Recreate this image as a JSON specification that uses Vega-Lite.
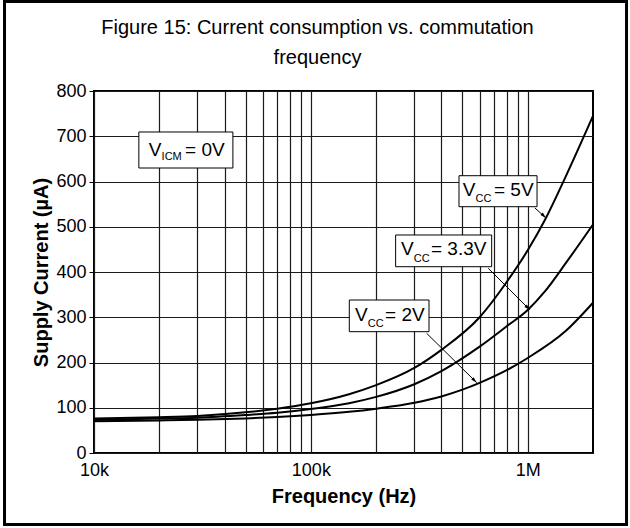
{
  "$schema": "https://vega.github.io/schema/vega-lite/v6.json",
  "autosize": "none",
  "width": 499,
  "height": 362,
  "padding": {"left": 94, "top": 91, "right": 37, "bottom": 75},
  "background": "white",
  "config": {
    "font": "Liberation Sans",
    "view": {"stroke": "black", "strokeWidth": 2}
  },
  "title": {
    "text": ["Figure 15: Current consumption vs. commutation", "frequency"],
    "font": "Liberation Sans",
    "fontSize": 20,
    "fontWeight": "normal",
    "color": "black",
    "anchor": "middle",
    "baseline": "bottom",
    "dx": -26,
    "lineHeight": 30,
    "offset": -88
  },
  "datasets": {
    "curves": [
      {"f": 10000, "I": 76, "vcc": "5V"},
      {"f": 20000, "I": 79, "vcc": "5V"},
      {"f": 30000, "I": 82, "vcc": "5V"},
      {"f": 50000, "I": 90, "vcc": "5V"},
      {"f": 70000, "I": 98, "vcc": "5V"},
      {"f": 100000, "I": 110, "vcc": "5V"},
      {"f": 150000, "I": 130, "vcc": "5V"},
      {"f": 200000, "I": 150, "vcc": "5V"},
      {"f": 300000, "I": 188, "vcc": "5V"},
      {"f": 400000, "I": 228, "vcc": "5V"},
      {"f": 600000, "I": 300, "vcc": "5V"},
      {"f": 800000, "I": 378, "vcc": "5V"},
      {"f": 1000000, "I": 448, "vcc": "5V"},
      {"f": 1200000, "I": 515, "vcc": "5V"},
      {"f": 1500000, "I": 612, "vcc": "5V"},
      {"f": 2000000, "I": 745, "vcc": "5V"},
      {"f": 10000, "I": 73, "vcc": "3.3V"},
      {"f": 20000, "I": 76, "vcc": "3.3V"},
      {"f": 30000, "I": 78, "vcc": "3.3V"},
      {"f": 50000, "I": 84, "vcc": "3.3V"},
      {"f": 70000, "I": 89, "vcc": "3.3V"},
      {"f": 100000, "I": 97, "vcc": "3.3V"},
      {"f": 150000, "I": 110, "vcc": "3.3V"},
      {"f": 200000, "I": 124, "vcc": "3.3V"},
      {"f": 300000, "I": 152, "vcc": "3.3V"},
      {"f": 400000, "I": 181, "vcc": "3.3V"},
      {"f": 600000, "I": 235, "vcc": "3.3V"},
      {"f": 800000, "I": 280, "vcc": "3.3V"},
      {"f": 1000000, "I": 316, "vcc": "3.3V"},
      {"f": 1200000, "I": 357, "vcc": "3.3V"},
      {"f": 1500000, "I": 420, "vcc": "3.3V"},
      {"f": 2000000, "I": 505, "vcc": "3.3V"},
      {"f": 10000, "I": 70, "vcc": "2V"},
      {"f": 20000, "I": 72, "vcc": "2V"},
      {"f": 30000, "I": 73.5, "vcc": "2V"},
      {"f": 50000, "I": 76.5, "vcc": "2V"},
      {"f": 70000, "I": 79.5, "vcc": "2V"},
      {"f": 100000, "I": 84, "vcc": "2V"},
      {"f": 150000, "I": 91, "vcc": "2V"},
      {"f": 200000, "I": 98, "vcc": "2V"},
      {"f": 300000, "I": 111, "vcc": "2V"},
      {"f": 400000, "I": 125, "vcc": "2V"},
      {"f": 500000, "I": 140, "vcc": "2V"},
      {"f": 600000, "I": 155, "vcc": "2V"},
      {"f": 800000, "I": 183, "vcc": "2V"},
      {"f": 1000000, "I": 210, "vcc": "2V"},
      {"f": 1500000, "I": 270, "vcc": "2V"},
      {"f": 2000000, "I": 332, "vcc": "2V"}
    ],
    "labels": [
      {"bx1": 16100, "bx2": 43700, "by1": 709.4, "by2": 629.8, "vx": 17900, "vy": 657, "sx": 20500, "sy": 647.5, "sub": "ICM", "rx": 26300, "rest": "= 0V"},
      {"bx1": 482000, "bx2": 1104000, "by1": 612.8, "by2": 544.3, "vx": 501000, "vy": 568.6, "sx": 574000, "sy": 555.4, "sub": "CC", "rx": 699000, "rest": "= 5V"},
      {"bx1": 246000, "bx2": 682000, "by1": 481.8, "by2": 411.7, "vx": 260400, "vy": 436.5, "sx": 298000, "sy": 423.2, "sub": "CC", "rx": 358000, "rest": "= 3.3V"},
      {"bx1": 150400, "bx2": 350600, "by1": 338.1, "by2": 268.1, "vx": 159800, "vy": 291.7, "sx": 182900, "sy": 278.5, "sub": "CC", "rx": 219800, "rest": "= 2V"}
    ],
    "arrows": [
      {"x1": 1080000, "y1": 541.4, "x2": 1214000, "y2": 519.3},
      {"x1": 658000, "y1": 408.2, "x2": 1024000, "y2": 316.0},
      {"x1": 342000, "y1": 264.5, "x2": 582000, "y2": 155.4}
    ],
    "frame": [
      {"f1": 3867, "f2": 2855000, "i1": 997.8, "i2": -158}
    ]
  },
  "layer": [
    {
      "data": {"name": "frame"},
      "mark": {"type": "rect", "fill": null, "stroke": "black", "strokeWidth": 3, "clip": false},
      "encoding": {
        "x": {"field": "f1", "type": "quantitative", "scale": {"type": "log", "domain": [10000, 2000000], "nice": false}},
        "x2": {"field": "f2"},
        "y": {"field": "i1", "type": "quantitative", "scale": {"domain": [0, 800], "nice": false}},
        "y2": {"field": "i2"}
      }
    },
    {
      "data": {"name": "curves"},
      "mark": {"type": "line", "color": "black", "strokeWidth": 2, "interpolate": "monotone"},
      "encoding": {
        "x": {
          "field": "f", "type": "quantitative",
          "scale": {"type": "log", "domain": [10000, 2000000], "nice": false},
          "axis": {
            "title": "Frequency (Hz)",
            "titleFont": "Liberation Sans",
            "titleFontSize": 20,
            "titleFontWeight": "bold",
            "titleColor": "black",
            "titlePadding": 7,
            "values": [10000, 20000, 30000, 40000, 50000, 60000, 70000, 80000, 90000, 100000, 200000, 300000, 400000, 500000, 600000, 700000, 800000, 900000, 1000000],
            "labelExpr": "datum.value == 10000 ? '10k' : datum.value == 100000 ? '100k' : datum.value == 1000000 ? '1M' : ''",
            "labelFont": "Liberation Sans",
            "labelFontSize": 18,
            "labelColor": "black",
            "labelPadding": 8,
            "labelFlush": false,
            "labelOverlap": false,
            "ticks": false,
            "domain": false,
            "grid": true,
            "gridColor": "#1a1a1a",
            "gridOpacity": 1,
            "gridWidth": 1.2
          }
        },
        "y": {
          "field": "I", "type": "quantitative",
          "scale": {"domain": [0, 800], "nice": false},
          "axis": {
            "title": "Supply Current (µA)",
            "titleFont": "Liberation Sans",
            "titleFontSize": 20,
            "titleFontWeight": "bold",
            "titleColor": "black",
            "titlePadding": 4,
            "values": [0, 50, 100, 150, 200, 250, 300, 350, 400, 450, 500, 550, 600, 650, 700, 750, 800],
            "labelExpr": "datum.value % 100 == 0 ? datum.label : ''",
            "labelFont": "Liberation Sans",
            "labelFontSize": 18,
            "labelColor": "black",
            "labelPadding": 3,
            "labelFlush": false,
            "labelOverlap": false,
            "tickSize": 5,
            "tickColor": "black",
            "tickOpacity": {"condition": {"test": "datum.value % 100 == 0", "value": 1}, "value": 0},
            "domain": false,
            "grid": true,
            "gridColor": "#1a1a1a",
            "gridOpacity": 1,
            "gridWidth": 1.2
          }
        },
        "detail": {"field": "vcc", "type": "nominal"}
      }
    },
    {
      "data": {"name": "arrows"},
      "mark": {"type": "rule", "color": "black", "strokeWidth": 1},
      "encoding": {
        "x": {"field": "x1", "type": "quantitative"},
        "x2": {"field": "x2"},
        "y": {"field": "y1", "type": "quantitative"},
        "y2": {"field": "y2"}
      }
    },
    {
      "data": {"name": "arrows"},
      "mark": {"type": "point", "shape": "M0,0L0.28,1L-0.28,1Z", "filled": true, "color": "black", "opacity": 1, "size": 150, "angle": 135},
      "encoding": {
        "x": {"field": "x2", "type": "quantitative"},
        "y": {"field": "y2", "type": "quantitative"}
      }
    },
    {
      "data": {"name": "labels"},
      "mark": {"type": "rect", "fill": "white", "stroke": "black", "strokeWidth": 1},
      "encoding": {
        "x": {"field": "bx1", "type": "quantitative"},
        "x2": {"field": "bx2"},
        "y": {"field": "by1", "type": "quantitative"},
        "y2": {"field": "by2"}
      }
    },
    {
      "data": {"name": "labels"},
      "mark": {"type": "text", "text": "V", "align": "left", "baseline": "alphabetic", "fontSize": 19, "font": "Liberation Sans", "color": "black"},
      "encoding": {
        "x": {"field": "vx", "type": "quantitative"},
        "y": {"field": "vy", "type": "quantitative"}
      }
    },
    {
      "data": {"name": "labels"},
      "mark": {"type": "text", "align": "left", "baseline": "alphabetic", "fontSize": 11, "font": "Liberation Sans", "color": "black"},
      "encoding": {
        "x": {"field": "sx", "type": "quantitative"},
        "y": {"field": "sy", "type": "quantitative"},
        "text": {"field": "sub"}
      }
    },
    {
      "data": {"name": "labels"},
      "mark": {"type": "text", "align": "left", "baseline": "alphabetic", "fontSize": 19, "font": "Liberation Sans", "color": "black"},
      "encoding": {
        "x": {"field": "rx", "type": "quantitative"},
        "y": {"field": "vy", "type": "quantitative"},
        "text": {"field": "rest"}
      }
    }
  ]
}
